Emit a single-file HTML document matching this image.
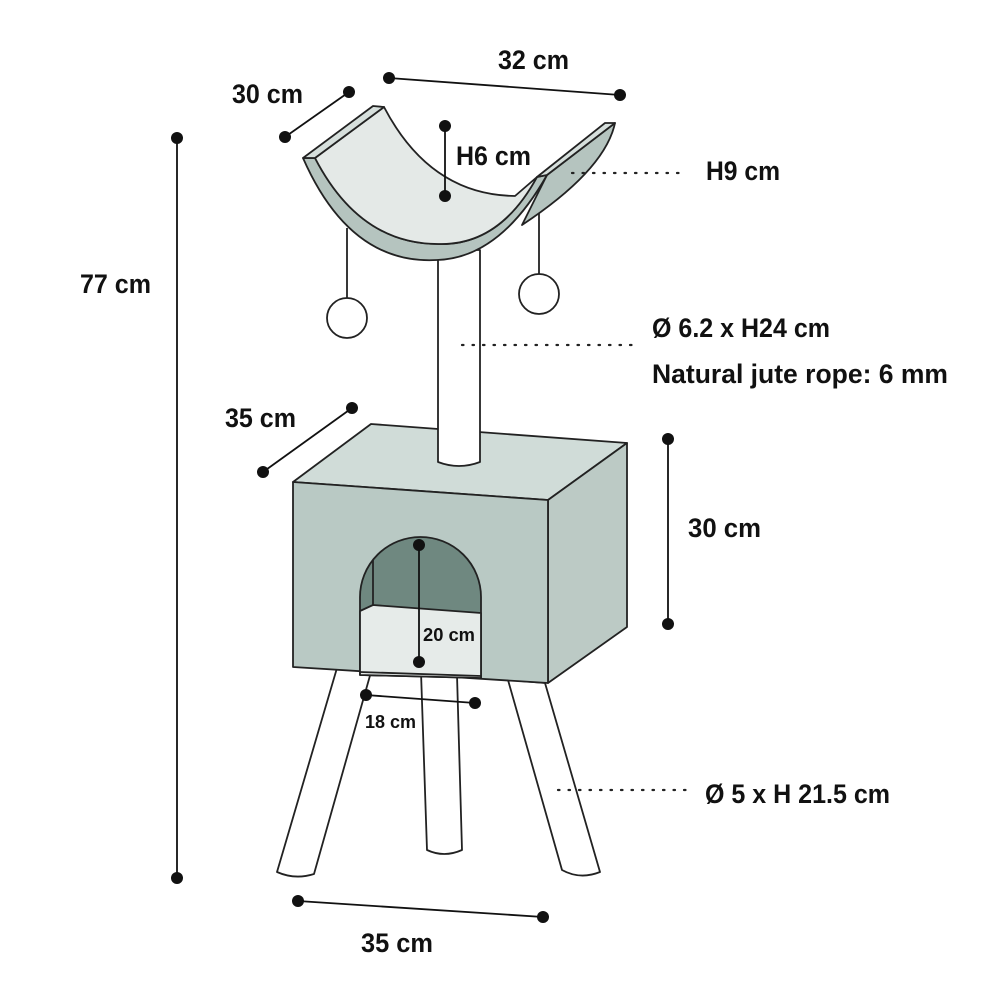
<!DOCTYPE html>
<html><head><meta charset="utf-8"><style>
html,body{margin:0;padding:0;background:#fff;}
svg{display:block;}
text{font-family:"Liberation Sans Narrow","Liberation Sans",sans-serif;font-weight:bold;fill:#111;}
</style></head><body>
<svg width="1000" height="1000" viewBox="0 0 1000 1000" xmlns="http://www.w3.org/2000/svg">
<g stroke="#222" stroke-width="1.8" stroke-linejoin="round" fill="#fff">
<!-- legs -->
<path d="M337,668 L277,872 Q295,880 314,874 L371,672 Z"/>
<path d="M421,672 L427,850 Q444,858 462,850 L457,675 Z"/>
<path d="M508,680 L562,870 Q580,880 600,872 L545,683 Z"/>
<!-- box -->
<path d="M293,482 L371,424 L627,443 L548,500 Z" fill="#d0dcd8"/>
<path d="M548,500 L627,443 L627,627 L548,683 Z" fill="#bccac5"/>
<path d="M293,482 L548,500 L548,683 L293,667 Z" fill="#b9c9c4"/>
<!-- arch -->
<path d="M360,675 L360,597 A60.5,60 0 0 1 481,597 L481,678 Z" fill="#6f8880"/>
<path d="M360,611 L373,605 L481,613 L481,678 L360,675 Z" fill="#e6ebe9"/>
<line x1="373" y1="560" x2="373" y2="605"/>
<path d="M360,672 L481,676"/>
<!-- post -->
<path d="M438,250 L438,462 Q459,470 480,462 L480,250 Z"/>
<!-- strings and balls -->
<line x1="347" y1="228" x2="347" y2="298"/>
<circle cx="347" cy="318" r="20"/>
<line x1="539" y1="212" x2="539" y2="275"/>
<circle cx="539" cy="294" r="20"/>
<!-- bowl -->
<path d="M547,175 L615,123 Q605,170 522,225 Z" fill="#b5c4bf"/>
<path d="M303,158 Q350,265 437,260 Q500,258 547,175 L537,177 Q500,245 440,244 Q360,245 315,158 Z" fill="#b5c4bf"/>
<path d="M315,158 L384,107 Q430,195 515,196 L537,177 Q500,245 440,244 Q360,245 315,158 Z" fill="#e4e9e7"/>
<path d="M303,158 L373,106 L384,107 L315,158 Z" fill="#d6dfdc"/>
<path d="M537,177 L605,123 L615,123 L547,175 Z" fill="#d6dfdc"/>
</g>
<!-- dimension lines -->
<g stroke="#111" stroke-width="1.8">
<line x1="389" y1="78" x2="620" y2="95"/>
<line x1="285" y1="137" x2="349" y2="92"/>
<line x1="445" y1="126" x2="445" y2="196"/>
<line x1="177" y1="138" x2="177" y2="878"/>
<line x1="352" y1="408" x2="263" y2="472"/>
<line x1="668" y1="439" x2="668" y2="624"/>
<line x1="419" y1="545" x2="419" y2="662"/>
<line x1="366" y1="695" x2="475" y2="703"/>
<line x1="298" y1="901" x2="543" y2="917"/>
</g>
<g stroke="#222" stroke-width="2.2" stroke-dasharray="1.5 9" stroke-linecap="round">
<line x1="572" y1="173" x2="682" y2="173"/>
<line x1="462" y1="345" x2="632" y2="345"/>
<line x1="558" y1="790" x2="690" y2="790"/>
</g>
<g fill="#111">
<circle cx="389" cy="78" r="6"/><circle cx="620" cy="95" r="6"/>
<circle cx="285" cy="137" r="6"/><circle cx="349" cy="92" r="6"/>
<circle cx="445" cy="126" r="6"/><circle cx="445" cy="196" r="6"/>
<circle cx="177" cy="138" r="6"/><circle cx="177" cy="878" r="6"/>
<circle cx="352" cy="408" r="6"/><circle cx="263" cy="472" r="6"/>
<circle cx="668" cy="439" r="6"/><circle cx="668" cy="624" r="6"/>
<circle cx="419" cy="545" r="6"/><circle cx="419" cy="662" r="6"/>
<circle cx="366" cy="695" r="6"/><circle cx="475" cy="703" r="6"/>
<circle cx="298" cy="901" r="6"/><circle cx="543" cy="917" r="6"/>
</g>
<g font-size="27">
<text x="498" y="69" textLength="71" lengthAdjust="spacingAndGlyphs">32 cm</text>
<text x="232" y="103" textLength="71" lengthAdjust="spacingAndGlyphs">30 cm</text>
<text x="456" y="165" textLength="75" lengthAdjust="spacingAndGlyphs">H6 cm</text>
<text x="706" y="180" textLength="74" lengthAdjust="spacingAndGlyphs">H9 cm</text>
<text x="80" y="293" textLength="71" lengthAdjust="spacingAndGlyphs">77 cm</text>
<text x="652" y="337" textLength="178" lengthAdjust="spacingAndGlyphs">Ø 6.2 x H24 cm</text>
<text x="652" y="383" textLength="296" lengthAdjust="spacingAndGlyphs">Natural jute rope: 6 mm</text>
<text x="225" y="427" textLength="71" lengthAdjust="spacingAndGlyphs">35 cm</text>
<text x="688" y="537" textLength="73" lengthAdjust="spacingAndGlyphs">30 cm</text>
<text x="705" y="803" textLength="185" lengthAdjust="spacingAndGlyphs">Ø 5 x H 21.5 cm</text>
<text x="361" y="952" textLength="72" lengthAdjust="spacingAndGlyphs">35 cm</text>
</g>
<text x="423" y="641" font-size="18" textLength="52" lengthAdjust="spacingAndGlyphs">20 cm</text>
<text x="365" y="728" font-size="18" textLength="51" lengthAdjust="spacingAndGlyphs">18 cm</text>
</svg>
</body></html>
